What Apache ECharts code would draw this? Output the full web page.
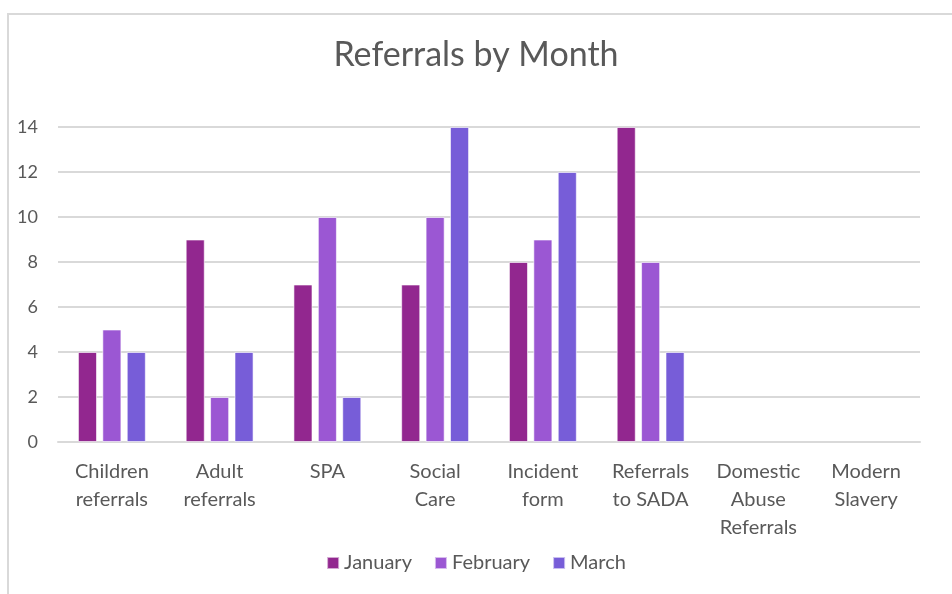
<!DOCTYPE html>
<html>
<head>
<meta charset="utf-8">
<script src="https://cdn.jsdelivr.net/npm/echarts@6/dist/echarts.min.js"></script>
<style>
  html, body { margin: 0; padding: 0; background: #fff; }
  #chart { width: 952px; height: 594px; }
</style>
</head>
<body>
<div id="chart"></div>
<script>
// chart data
var categories = ['Children\nreferrals', 'Adult\nreferrals', 'SPA', 'Social\nCare', 'Incident\nform', 'Referrals\nto SADA', 'Domestic\nAbuse\nReferrals', 'Modern\nSlavery']
var january = [4, 9, 7, 7, 8, 14, null, null]
var february = [5, 2, 10, 10, 9, 8, null, null]
var march = [4, 4, 2, 14, 12, 4, null, null]
var yTicks = [0, 2, 4, 6, 8, 10, 12, 14]

var textColor = '#595959'
var font = 'Lato'

var chart = echarts.init(document.getElementById('chart'))

function barSeries(name, data, color) {
  return {
    name: name,
    type: 'bar',
    data: data,
    barGap: '28%',
    barCategoryGap: '37%',
    itemStyle: {
      color: color,
      borderColor: 'rgba(255,255,255,0.6)',
      borderWidth: 1
    }
  }
}

chart.setOption({
  animation: false,
  textStyle: { fontFamily: font },
  graphic: [{
    // outer chart border (cropped at right/bottom)
    type: 'rect',
    shape: { x: 8, y: 14, width: 1000, height: 700 },
    style: { fill: 'none', stroke: '#d9d9d9', lineWidth: 2 },
    silent: true
  }],
  title: {
    text: 'Referrals by Month',
    left: 'center',
    top: 33,
    textStyle: { fontFamily: font, fontSize: 34, fontWeight: 'normal', color: textColor }
  },
  legend: {
    bottom: 16,
    left: 'center',
    icon: 'rect',
    itemWidth: 12,
    itemHeight: 12,
    itemGap: 22,
    textStyle: { fontFamily: font, fontSize: 20, color: textColor }
  },
  grid: {
    left: 58,
    right: 32,
    top: 127,
    bottom: 152
  },
  xAxis: {
    type: 'category',
    data: categories,
    axisTick: { show: false },
    axisLine: { lineStyle: { color: '#d9d9d9', width: 2 } },
    axisLabel: {
      interval: 0,
      color: textColor,
      fontSize: 20,
      lineHeight: 28,
      margin: 16,
      fontFamily: font
    }
  },
  yAxis: {
    type: 'value',
    min: yTicks[0],
    max: yTicks[yTicks.length - 1],
    interval: 2,
    axisLine: { show: false },
    axisTick: { show: false },
    splitLine: { lineStyle: { color: '#d9d9d9', width: 2 } },
    axisLabel: { color: textColor, fontSize: 18, margin: 20, fontFamily: font }
  },
  series: [
    barSeries('January', january, '#92278f'),
    barSeries('February', february, '#9b57d3'),
    barSeries('March', march, '#775dd8')
  ]
})
</script>
</body>
</html>
